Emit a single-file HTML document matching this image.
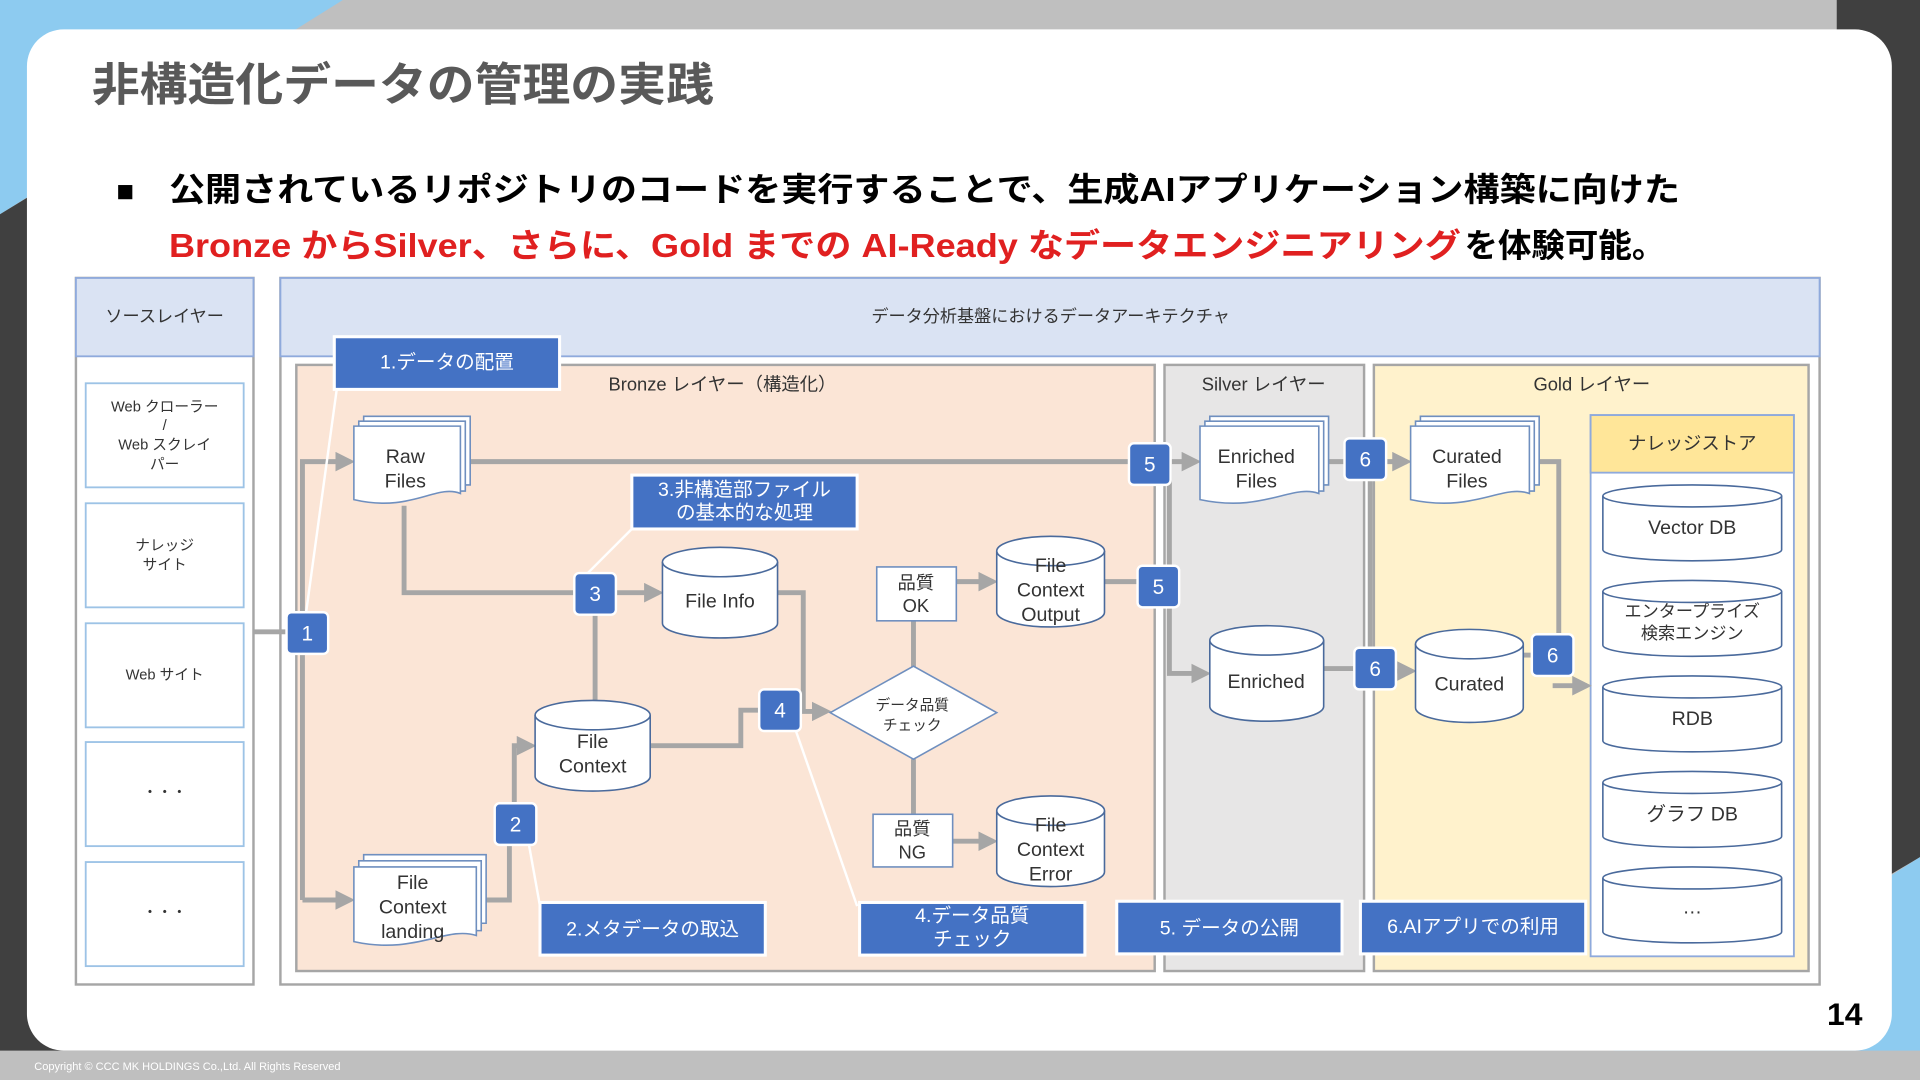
<!DOCTYPE html>
<html><head><meta charset="utf-8"><style>
html,body{margin:0;padding:0;width:1920px;height:1080px;overflow:hidden;background:#bfbfbf}
svg{display:block}
text{font-family:"Liberation Sans","Noto Sans CJK JP",sans-serif}
</style></head><body>
<svg width="1920" height="1080" viewBox="0 0 1568 882" xmlns="http://www.w3.org/2000/svg">
<defs>
<marker id="ar" markerWidth="4" markerHeight="4" refX="3" refY="2" orient="auto" markerUnits="strokeWidth"><path d="M0,0 L4,2 L0,4 Z" fill="#a6a6a6"/></marker>
</defs>
<rect width="1568" height="882" fill="#bfbfbf"/>
<polygon points="0,0 280,0 0,175" fill="#8dcbf0"/>
<polygon points="0,175 90,120 90,882 0,882" fill="#404040"/>
<polygon points="1500,0 1568,0 1568,700 1500,740" fill="#404040"/>
<polygon points="1568,700 1568,882 1280,882" fill="#8dcbf0"/>
<rect x="0" y="858" width="1568" height="24" fill="#bfbfbf"/>
<text x="28" y="874" font-size="9" fill="#fff">Copyright © CCC MK HOLDINGS Co.,Ltd. All Rights Reserved</text>
<rect x="22" y="24" width="1523" height="834" rx="30" fill="#fff"/>
<text x="75" y="82" font-size="37" font-weight="bold" fill="#595959" textLength="508" lengthAdjust="spacingAndGlyphs">非構造化データの管理の実践</text>
<text x="95" y="164" font-size="24" font-weight="bold" fill="#000">■</text>
<text x="138" y="164" font-size="27" font-weight="bold" fill="#000" textLength="1234" lengthAdjust="spacingAndGlyphs">公開されているリポジトリのコードを実行することで、生成AIアプリケーション構築に向けた</text>
<text x="138" y="210" font-size="27" font-weight="bold" fill="#e02020" textLength="1055" lengthAdjust="spacingAndGlyphs">Bronze からSilver、さらに、Gold までの AI-Ready なデータエンジニアリング</text>
<text x="1196" y="210" font-size="27" font-weight="bold" fill="#000" textLength="164" lengthAdjust="spacingAndGlyphs">を体験可能。</text>

<!-- source layer -->
<rect x="62" y="227" width="145" height="577" fill="#fff" stroke="#a6a6a6" stroke-width="2"/>
<rect x="62" y="227" width="145" height="64" fill="#dae3f3" stroke="#8faadc" stroke-width="1.5"/>
<text x="134.5" y="263" font-size="14" text-anchor="middle" fill="#333">ソースレイヤー</text>
<g fill="#fff" stroke="#9dc3e6" stroke-width="1.5">
<rect x="70" y="313" width="129" height="85"/><rect x="70" y="411" width="129" height="85"/><rect x="70" y="509" width="129" height="85"/><rect x="70" y="606" width="129" height="85"/><rect x="70" y="704" width="129" height="85"/>
</g>
<g font-size="12" text-anchor="middle" fill="#333">
<text x="134.5" y="336">Web クローラー</text><text x="134.5" y="351">/</text><text x="134.5" y="367">Web スクレイ</text><text x="134.5" y="383">パー</text>
<text x="134.5" y="449">ナレッジ</text><text x="134.5" y="465">サイト</text>
<text x="134.5" y="555">Web サイト</text>
<text x="134.5" y="651">・・・</text><text x="134.5" y="749">・・・</text>
</g>

<!-- main -->
<rect x="229" y="227" width="1257" height="577" fill="#fff" stroke="#a6a6a6" stroke-width="2"/>
<rect x="229" y="227" width="1257" height="64" fill="#dae3f3" stroke="#8faadc" stroke-width="1.5"/>
<text x="858" y="263" font-size="14" text-anchor="middle" fill="#333">データ分析基盤におけるデータアーキテクチャ</text>
<rect x="242" y="298" width="701" height="495" fill="#fbe5d6" stroke="#a6a6a6" stroke-width="2"/>
<rect x="951" y="298" width="163" height="495" fill="#e7e6e6" stroke="#a6a6a6" stroke-width="2"/>
<rect x="1122" y="298" width="355" height="495" fill="#fff2cc" stroke="#a6a6a6" stroke-width="2"/>
<g font-size="15" text-anchor="middle" fill="#333">
<text x="590" y="319">Bronze レイヤー（構造化）</text>
<text x="1032" y="319">Silver レイヤー</text>
<text x="1300" y="319">Gold レイヤー</text>
</g>
<rect x="1299" y="339" width="166" height="442" fill="#fff" stroke="#8faadc" stroke-width="1.5"/>
<rect x="1299" y="339" width="166" height="47" fill="#ffe699" stroke="#8faadc" stroke-width="1.5"/>
<text x="1382" y="367" font-size="15" text-anchor="middle" fill="#333">ナレッジストア</text>

<!-- connectors -->
<g fill="none" stroke="#a6a6a6" stroke-width="4">
<path d="M207,516 H236"/>
<path d="M247,735 V377 H286" marker-end="url(#ar)"/>
<path d="M247,735 H286" marker-end="url(#ar)"/>
<path d="M384,377 H924"/>
<path d="M956,377 H977" marker-end="url(#ar)"/>
<path d="M330,413 V484 H470"/>
<path d="M503,484 H538" marker-end="url(#ar)"/>
<path d="M486,501 V574"/>
<path d="M397,735 H416 V690"/>
<path d="M420,656 V609 H434" marker-end="url(#ar)"/>
<path d="M531,609 H605 V580 H622"/>
<path d="M635,484 H656 V580"/>
<path d="M654,581 H675" marker-end="url(#ar)"/>
<path d="M746,545 V507"/>
<path d="M781,475 H811" marker-end="url(#ar)"/>
<path d="M902,475 H930"/>
<path d="M955,377 V550 H985" marker-end="url(#ar)"/>
<path d="M746,620 V665"/>
<path d="M778,687 H811" marker-end="url(#ar)"/>
<path d="M1085,377 H1100"/>
<path d="M1132,377 H1149" marker-end="url(#ar)"/>
<path d="M1119,377 V546"/>
<path d="M1081,546 H1108"/>
<path d="M1140,548 H1153" marker-end="url(#ar)"/>
<path d="M1257,377 H1273 V520"/>
<path d="M1244,535 H1253"/>
<path d="M1268,560 H1296" marker-end="url(#ar)"/>
</g>

<!-- callout lines -->
<g stroke="#fff" stroke-width="2" fill="none">
<path d="M275,318 L250,500"/><path d="M518,430 L480,468"/><path d="M441,740 L432,690"/><path d="M700,740 L650,597"/>
</g>

<!-- documents -->
<g fill="#fff" stroke="#6f8fbf" stroke-width="1.3">
<path d="M297,340 h87 v56 h-87z"/><path d="M293,344 h87 v57 h-87z"/><path d="M289,348 h87 v55 c-20,-8 -40,16 -87,5z"/>
<path d="M297,698 h100 v56 h-100z"/><path d="M293,703 h100 v57 h-100z"/><path d="M289,708 h100 v56 c-25,-8 -50,16 -100,5z"/>
<path d="M988,340 h97 v56 h-97z"/><path d="M984,344 h97 v57 h-97z"/><path d="M980,348 h97 v55 c-22,-8 -45,16 -97,5z"/>
<path d="M1160,340 h97 v56 h-97z"/><path d="M1156,344 h97 v57 h-97z"/><path d="M1152,348 h97 v55 c-22,-8 -45,16 -97,5z"/>
</g>
<g font-size="16" text-anchor="middle" fill="#333">
<text x="331" y="378">Raw</text><text x="331" y="398">Files</text>
<text x="337" y="726">File</text><text x="337" y="746">Context</text><text x="337" y="766">landing</text>
<text x="1026" y="378">Enriched</text><text x="1026" y="398">Files</text>
<text x="1198" y="378">Curated</text><text x="1198" y="398">Files</text>
</g>

<!-- cylinders -->
<g fill="#fff" stroke="#4a6a9c" stroke-width="1.3">
<path d="M541,459 v50 a47,12 0 0 0 94,0 v-50"/><ellipse cx="588" cy="459" rx="47" ry="12"/>
<path d="M437,584 v50 a47,12 0 0 0 94,0 v-50"/><ellipse cx="484" cy="584" rx="47" ry="12"/>
<path d="M814,450 v50 a44,12 0 0 0 88,0 v-50"/><ellipse cx="858" cy="450" rx="44" ry="12"/>
<path d="M814,662 v50 a44,12 0 0 0 88,0 v-50"/><ellipse cx="858" cy="662" rx="44" ry="12"/>
<path d="M988,523 v54 a46.5,12 0 0 0 93,0 v-54"/><ellipse cx="1034.5" cy="523" rx="46.5" ry="12"/>
<path d="M1156,526 v52 a44,12 0 0 0 88,0 v-52"/><ellipse cx="1200" cy="526" rx="44" ry="12"/>
<path d="M1309,405 v44 a73,9 0 0 0 146,0 v-44"/><ellipse cx="1382" cy="405" rx="73" ry="9"/>
<path d="M1309,483 v44 a73,9 0 0 0 146,0 v-44"/><ellipse cx="1382" cy="483" rx="73" ry="9"/>
<path d="M1309,561 v44 a73,9 0 0 0 146,0 v-44"/><ellipse cx="1382" cy="561" rx="73" ry="9"/>
<path d="M1309,639 v44 a73,9 0 0 0 146,0 v-44"/><ellipse cx="1382" cy="639" rx="73" ry="9"/>
<path d="M1309,717 v44 a73,9 0 0 0 146,0 v-44"/><ellipse cx="1382" cy="717" rx="73" ry="9"/>
</g>
<g font-size="16" text-anchor="middle" fill="#333">
<text x="588" y="496">File Info</text>
<text x="484" y="611">File</text><text x="484" y="631">Context</text>
<text x="858" y="467">File</text><text x="858" y="487">Context</text><text x="858" y="507">Output</text>
<text x="858" y="679">File</text><text x="858" y="699">Context</text><text x="858" y="719">Error</text>
<text x="1034" y="562">Enriched</text>
<text x="1200" y="564">Curated</text>
<text x="1382" y="436">Vector DB</text>
<text x="1382" y="504" font-size="14">エンタープライズ</text><text x="1382" y="522" font-size="14">検索エンジン</text>
<text x="1382" y="592">RDB</text>
<text x="1382" y="670">グラフ DB</text>
<text x="1382" y="746">…</text>
</g>

<!-- quality boxes and diamond -->
<g fill="#fff" stroke="#6f8fbf" stroke-width="1.3">
<rect x="716" y="463" width="65" height="44"/><rect x="713" y="665" width="65" height="43"/>
<polygon points="678,582 746,544 814,582 746,620"/>
</g>
<g font-size="15" text-anchor="middle" fill="#333">
<text x="748" y="481">品質</text><text x="748" y="500">OK</text>
<text x="745" y="682">品質</text><text x="745" y="701">NG</text>
<text x="745" y="580" font-size="12">データ品質</text><text x="745" y="596" font-size="12">チェック</text>
</g>

<!-- blue label boxes -->
<g fill="#4472c4" stroke="#fff" stroke-width="2.5">
<rect x="273" y="275" width="184" height="43"/><rect x="516" y="388" width="184" height="44"/>
<rect x="441" y="737" width="184" height="43"/><rect x="702" y="737" width="184" height="43"/>
<rect x="912" y="736" width="184" height="43"/><rect x="1111" y="736" width="184" height="43"/>
</g>
<g font-size="16" text-anchor="middle" fill="#fff">
<text x="365" y="301">1.データの配置</text>
<text x="608" y="405">3.非構造部ファイル</text><text x="608" y="424">の基本的な処理</text>
<text x="533" y="764">2.メタデータの取込</text>
<text x="794" y="753">4.データ品質</text><text x="794" y="772">チェック</text>
<text x="1004" y="763">5. データの公開</text>
<text x="1203" y="762">6.AIアプリでの利用</text>
</g>

<!-- number badges -->
<g fill="#4472c4" stroke="#fff" stroke-width="2">
<rect x="234" y="500" width="34" height="34" rx="4"/><rect x="404" y="656" width="34" height="34" rx="4"/>
<rect x="469" y="468" width="34" height="34" rx="4"/><rect x="620" y="563" width="34" height="34" rx="4"/>
<rect x="922" y="362" width="34" height="34" rx="4"/><rect x="929" y="462" width="34" height="34" rx="4"/>
<rect x="1098" y="358" width="34" height="34" rx="4"/><rect x="1106" y="529" width="34" height="34" rx="4"/>
<rect x="1251" y="518" width="34" height="34" rx="4"/>
</g>
<g font-size="17" text-anchor="middle" fill="#fff">
<text x="251" y="523">1</text><text x="421" y="679">2</text><text x="486" y="491">3</text><text x="637" y="586">4</text>
<text x="939" y="385">5</text><text x="946" y="485">5</text><text x="1115" y="381">6</text><text x="1123" y="552">6</text><text x="1268" y="541">6</text>
</g>
<text x="1521" y="837" font-size="26" font-weight="bold" text-anchor="end" fill="#000">14</text>
</svg>
</body></html>
